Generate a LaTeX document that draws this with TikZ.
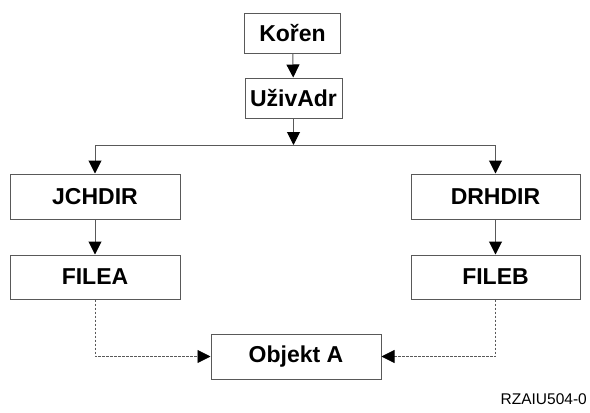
\documentclass[tikz,border=0pt]{standalone}
\usepackage{fontspec}
\setmainfont{Liberation Sans}
\usetikzlibrary{arrows.meta}
\begin{document}
\begin{tikzpicture}[x=1pt,y=-1pt,
  box/.style={draw=black!65, line width=1pt, fill=white, inner sep=0pt,
    minimum height=45pt, font=\fontsize{23}{26}\selectfont\bfseries},
  link/.style={draw=black!65, line width=1pt,
    -{Triangle[length=13pt,width=13pt,fill=black,color=black]}},
  ref/.style={draw=black!65, line width=0.8pt, dash pattern=on 2.5pt off 1.5pt,
    -{Triangle[length=13pt,width=13pt,fill=black,color=black]}}]
\useasboundingbox (0,0) rectangle (590,413);
% root of the tree
\node[box, minimum width=96pt, minimum height=40pt] (koren) at (292.5,33) {Kořen};
\node[box, minimum width=97pt, minimum height=40pt] (uziv) at (293.5,98) {UživAdr};
% two directories
\node[box, minimum width=170pt] (jch) at (95,196.5) {JCHDIR};
\node[box, minimum width=169pt] (drh) at (495.5,196.5) {DRHDIR};
% files
\node[box, minimum width=170pt, minimum height=44pt] (filea) at (95,277) {FILEA};
\node[box, minimum width=169pt, minimum height=44pt] (fileb) at (495.5,277) {FILEB};
% the shared object
\node[box, minimum width=170pt] (obj) at (296,356.5) {Objekt A};
% branch point
\coordinate (split) at (293.5,145);
\draw[link] (koren) -- (uziv);
\draw[link] (uziv) -- (split);
\draw[draw=black!65, line width=1pt] (jch.north |- split) -- (drh.north |- split);
\draw[link] (jch.north |- split) -- (jch);
\draw[link] (drh.north |- split) -- (drh);
\draw[link] (jch) -- (filea);
\draw[link] (drh) -- (fileb);
\draw[ref] (filea.south) |- (obj.west);
\draw[ref] (fileb.south) |- (obj.east);
\node[anchor=east, inner sep=0pt, font=\fontsize{15.5}{18}\selectfont] (tag) at (587,399) {RZAIU504-0};
\end{tikzpicture}
\end{document}
